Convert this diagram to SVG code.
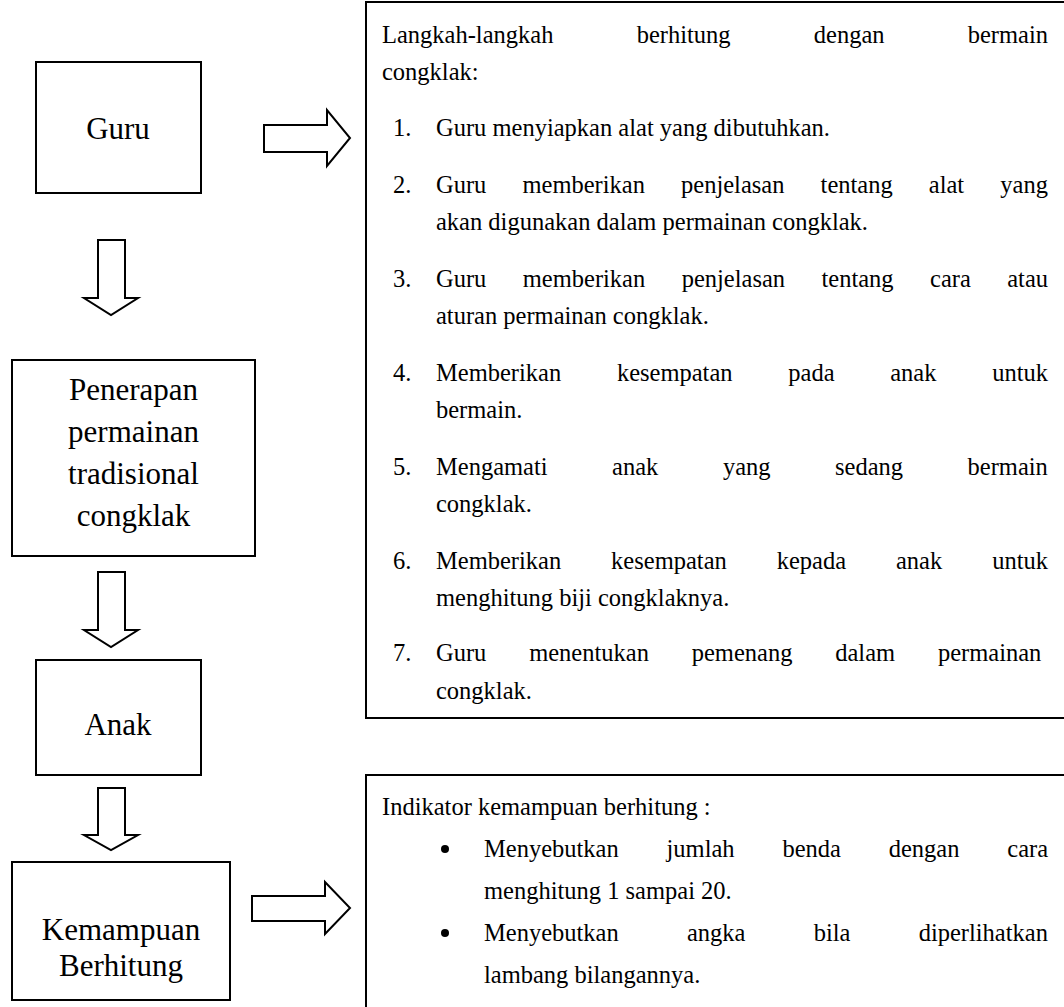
<svg xmlns="http://www.w3.org/2000/svg" width="1064" height="1007" viewBox="0 0 1064 1007">
<style>
.box{fill:#fff;stroke:#000;stroke-width:2}
.arr{fill:#fff;stroke:#000;stroke-width:2;stroke-linejoin:miter}
.lt{font-family:"Liberation Serif","Times New Roman",serif;font-size:31px;fill:#000;text-anchor:middle}
.rt{font-family:"Liberation Serif","Times New Roman",serif;font-size:24.5px;fill:#000}
</style>
<rect width="1064" height="1007" fill="#fff"/>
<g id="connectors">
<path class="arr" d="M264,125 H327 V110 L350,138 L327,166 V152 H264 Z"/>
<path class="arr" d="M98,240 H125 V298 H138 L111,315 L84,298 H98 Z"/>
<path class="arr" d="M98,572 H125 V630 H138 L111,647 L84,630 H98 Z"/>
<path class="arr" d="M98,788 H125 V835 H138 L111,850 L84,835 H98 Z"/>
<path class="arr" d="M252,896 H325 V882 L350,908 L325,934 V921 H252 Z"/>
</g>
<g id="guru">
<rect class="box" x="36" y="62" width="165" height="131"/>
<text class="lt" x="118" y="139">Guru</text>
</g>
<g id="penerapan">
<rect class="box" x="12" y="360" width="243" height="196"/>
<text class="lt" x="133.5" y="400">Penerapan</text>
<text class="lt" x="133.5" y="442">permainan</text>
<text class="lt" x="133.5" y="484">tradisional</text>
<text class="lt" x="133.5" y="526">congklak</text>
</g>
<g id="anak">
<rect class="box" x="36" y="660" width="165" height="115"/>
<text class="lt" x="118" y="735">Anak</text>
</g>
<g id="kemampuan">
<rect class="box" x="12" y="862" width="218" height="138"/>
<text class="lt" x="121" y="940">Kemampuan</text>
<text class="lt" x="121" y="976">Berhitung</text>
</g>
<g id="langkah">
<path class="box" d="M1066,2 H366 V718 H1066"/>
<text class="rt" x="382" y="43" word-spacing="77.1">Langkah-langkah berhitung dengan bermain</text>
<text class="rt" x="382" y="80">congklak:</text>
<text class="rt" x="393" y="136">1.</text>
<text class="rt" x="436" y="136">Guru menyiapkan alat yang dibutuhkan.</text>
<text class="rt" x="393" y="193">2.</text>
<text class="rt" x="436" y="193" word-spacing="30">Guru memberikan penjelasan tentang alat yang</text>
<text class="rt" x="436" y="230">akan digunakan dalam permainan congklak.</text>
<text class="rt" x="393" y="287">3.</text>
<text class="rt" x="436" y="287" word-spacing="30.3">Guru memberikan penjelasan tentang cara atau</text>
<text class="rt" x="436" y="324">aturan permainan congklak.</text>
<text class="rt" x="393" y="381">4.</text>
<text class="rt" x="436" y="381" word-spacing="49.6">Memberikan kesempatan pada anak untuk</text>
<text class="rt" x="436" y="418">bermain.</text>
<text class="rt" x="393" y="475">5.</text>
<text class="rt" x="436" y="475" word-spacing="58.4">Mengamati anak yang sedang bermain</text>
<text class="rt" x="436" y="512">congklak.</text>
<text class="rt" x="393" y="569">6.</text>
<text class="rt" x="436" y="569" word-spacing="43.8">Memberikan kesempatan kepada anak untuk</text>
<text class="rt" x="436" y="606">menghitung biji congklaknya.</text>
<text class="rt" x="393" y="661">7.</text>
<text class="rt" x="436" y="661" word-spacing="36.7">Guru menentukan pemenang dalam permainan</text>
<text class="rt" x="436" y="699">congklak.</text>
</g>
<g id="indikator">
<path class="box" d="M1066,775 H366 V1010"/>
<text class="rt" x="382" y="815">Indikator kemampuan berhitung :</text>
<circle cx="445" cy="849" r="4"/>
<text class="rt" x="484" y="857" word-spacing="41.7">Menyebutkan jumlah benda dengan cara</text>
<text class="rt" x="484" y="899">menghitung 1 sampai 20.</text>
<circle cx="445" cy="933" r="4"/>
<text class="rt" x="484" y="941" word-spacing="62.1">Menyebutkan angka bila diperlihatkan</text>
<text class="rt" x="484" y="983">lambang bilangannya.</text>
</g>
</svg>
